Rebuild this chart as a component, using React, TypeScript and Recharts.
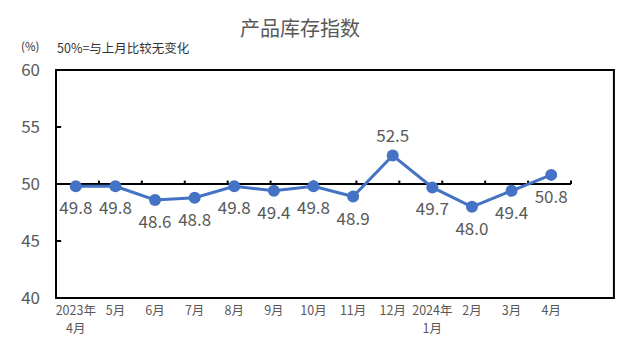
import { LineChart, Line, XAxis, YAxis, ReferenceLine, ReferenceArea, LabelList } from 'recharts';

const months = ['2023年\n4月', '5月', '6月', '7月', '8月', '9月', '10月', '11月', '12月', '2024年\n1月', '2月', '3月', '4月'];
const inventory = [49.8, 49.8, 48.6, 48.8, 49.8, 49.4, 49.8, 48.9, 52.5, 49.7, 48.0, 49.4, 50.8];
const yTicks = [40, 45, 50, 55, 60];

const data = months.map((m, i) => ({ month: m, value: inventory[i] }));
const boundaries = months.slice(1).map((_, i) => i + 1);

const FONT = '"Noto Sans CJK SC", "Noto Sans", sans-serif';
const GREY = '#595959';

function MonthTick(props: any) {
  const { x, y, payload } = props;
  const lines = String(payload.value).split('\n');
  return (
    <g>
      {lines.map((l, i) => (
        <text key={i} x={x} y={y + 9 + i * 17.5} textAnchor="middle" fill={GREY} fontSize={12.5} fontFamily={FONT}>
          {l}
        </text>
      ))}
    </g>
  );
}

function ValueLabel(props: any) {
  const { x, y, value } = props;
  const above = value > 52;
  return (
    <text x={x} y={above ? y - 14 : y + 28} textAnchor="middle" fill={GREY} fontSize={17} fontFamily={FONT}>
      {Number(value).toFixed(1)}
    </text>
  );
}

export default function App() {
  return (
    <div style={{ position: 'absolute', left: 0, top: 0, width: 618, height: 359, background: '#fff', fontFamily: FONT }}>
      <div style={{ position: 'absolute', left: 0, width: 600, top: 13, textAlign: 'center', fontSize: 20, color: GREY }}>产品库存指数</div>
      <div style={{ position: 'absolute', left: 21, top: 38, fontSize: 11.5, color: '#333' }}>(%)</div>
      <div style={{ position: 'absolute', left: 57, top: 38, fontSize: 12.5, color: '#333' }}>50%=与上月比较无变化</div>
      <LineChart width={618} height={359} data={data} margin={{ top: 70, right: 47, bottom: 21, left: 0 }}>
        <XAxis
          dataKey="month"
          height={40}
          axisLine={false}
          tickLine={false}
          interval={0}
          padding={{ left: 19.8, right: 19.8 }}
          tick={<MonthTick />}
        />
        <XAxis xAxisId="num" type="number" domain={[0, 13]} hide />
        <YAxis
          domain={[40, 60]}
          ticks={yTicks}
          width={56}
          axisLine={false}
          tickLine={false}
          tickSize={0}
          tickMargin={16}
          tick={{ fill: GREY, fontSize: 17, fontFamily: FONT }}
        />
        <ReferenceArea xAxisId="num" x1={0} x2={13} y1={40} y2={60} fill="none" stroke="#000" strokeWidth={2} ifOverflow="visible" />
        <ReferenceLine xAxisId="num" y={50} stroke="#000" strokeWidth={2} />
        {boundaries.map((b) => (
          <ReferenceLine
            key={b}
            xAxisId="num"
            segment={[{ x: b, y: 50 }, { x: b, y: 50.3 }]}
            stroke="#000"
            strokeWidth={2}
          />
        ))}
        {[45, 55].map((t) => (
          <ReferenceLine
            key={t}
            xAxisId="num"
            segment={[{ x: 0, y: t }, { x: 0.12, y: t }]}
            stroke="#000"
            strokeWidth={2}
          />
        ))}
        <Line
          type="linear"
          dataKey="value"
          stroke="#4472C4"
          strokeWidth={3}
          dot={{ r: 6, fill: '#4472C4', stroke: '#4472C4', strokeWidth: 0 }}
          isAnimationActive={false}
        >
          <LabelList dataKey="value" content={<ValueLabel />} />
        </Line>
      </LineChart>
    </div>
  );
}
